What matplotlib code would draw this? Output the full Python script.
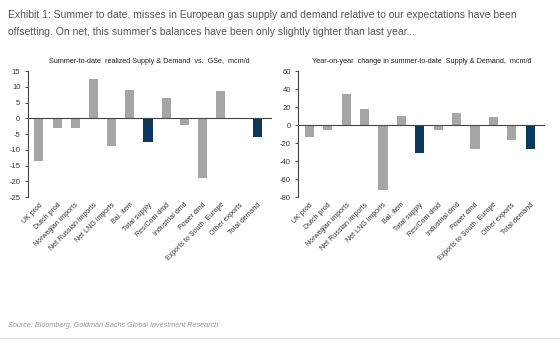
import numpy as np
import matplotlib.pyplot as plt

plt.rcParams['font.family'] = ['Liberation Sans', 'DejaVu Sans']
plt.rcParams['axes.unicode_minus'] = False

categories = ['UK prod', 'Dutch prod', 'Norwegian imports', 'Net Russian imports',
              'Net LNG imports', 'Bal. item', 'Total supply', 'Res/Com dmd',
              'Industrial dmd', 'Power dmd', 'Exports to South. Europe',
              'Other exports', 'Total demand']

# summer-to-date vs GS expectations, mcm/d
vs_gse = [-13.5, -3.0, -3.0, 12.5, -8.8, 9.0, -7.5, 6.3, -2.0, -18.8, 8.6, -0.2, -6.0]
# year-on-year change, mcm/d
yoy = [-13, -5, 35, 18, -72, 10, -31, -5, 13, -27, 9, -16, -27]

totals = ['Total supply', 'Total demand']
grey = '#a6a6a6'
navy = '#0b3a5e'
colors = [navy if c in totals else grey for c in categories]

fig = plt.figure(figsize=(5.6, 3.43), dpi=100)

fig.text(0.015, 0.957, "Exhibit 1: Summer to date, misses in European gas supply and demand relative to our expectations have been",
         fontsize=7.5, color='#555555', va='center')
fig.text(0.015, 0.907, "offsetting. On net, this summer's balances have been only slightly tighter than last year...",
         fontsize=7.5, color='#555555', va='center')

ax1 = fig.add_axes([0.05, 0.425, 0.435, 0.368])
ax2 = fig.add_axes([0.533, 0.425, 0.44, 0.368])

x = np.arange(len(categories))

for ax, vals, lims, step, title in [
        (ax1, vs_gse, (-25, 15), 5, 'Summer-to-date  realized Supply & Demand  vs.  GSe,  mcm/d'),
        (ax2, yoy, (-80, 60), 20, 'Year-on-year  change in summer-to-date  Supply & Demand,  mcm/d')]:
    ax.bar(x, vals, width=0.5, color=colors)
    ax.axhline(0, color='#444444', lw=0.8)
    ax.set_ylim(*lims)
    ax.set_xlim(-0.6, len(categories) - 0.2)
    ax.set_yticks(np.arange(lims[0], lims[1] + 1, step))
    ax.set_xticks(x)
    ax.set_xticklabels(categories, rotation=45, ha='right', rotation_mode='anchor',
                       fontsize=5, color='#333333')
    ax.tick_params(axis='x', length=0, pad=3)
    ax.tick_params(axis='y', labelsize=5.5, colors='#333333', length=2, width=0.6)
    for s in ['top', 'right', 'bottom']:
        ax.spines[s].set_visible(False)
    ax.spines['left'].set_linewidth(0.8)
    ax.spines['left'].set_color('#444444')
    ax.set_title(title, fontsize=5.2, color='#222222', pad=6)

fig.text(0.015, 0.052, 'Source: Bloomberg, Goldman Sachs Global Investment Research',
         fontsize=5.2, color='#999999', style='italic', va='center')
fig.add_artist(plt.Line2D([0, 1], [0.015, 0.015], color='#dddddd', lw=0.8))

fig.savefig('out.png', dpi=100)
